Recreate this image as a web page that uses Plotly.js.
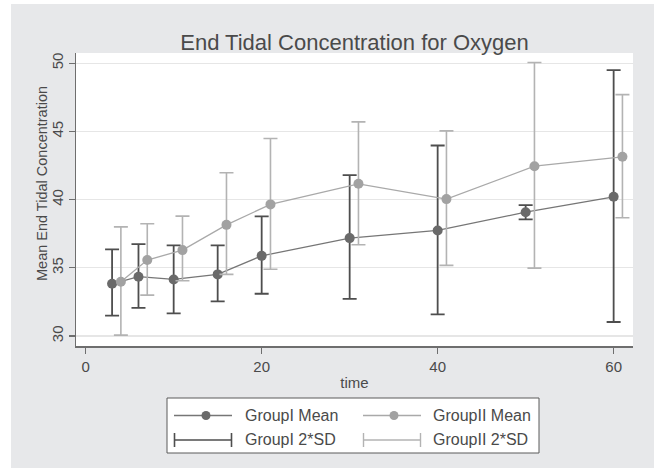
<!DOCTYPE html>
<html>
<head>
<meta charset="utf-8">
<script src="https://cdn.plot.ly/plotly-3.0.1.min.js"></script>
<style>
html,body{margin:0;padding:0;background:#ffffff;width:654px;height:468px;overflow:hidden;}
#chart{position:absolute;left:11px;top:4px;width:643px;height:464px;}
</style>
</head>
<body>
<div id="chart"></div>
<script>
// ---- data ----
var timeI  = [3, 6, 10, 15, 20, 30, 40, 50, 60];
var meanI  = [33.83, 34.35, 34.15, 34.52, 35.88, 37.18, 37.74, 39.08, 40.21];
var upperI = [36.35, 36.74, 36.64, 36.64, 38.77, 41.80, 43.97, 39.60, 49.49];
var lowerI = [31.50, 32.07, 31.66, 32.54, 33.10, 32.73, 31.59, 38.55, 31.03];

var timeII  = [4, 7, 11, 16, 21, 31, 41, 51, 61];
var meanII  = [33.98, 35.57, 36.30, 38.15, 39.65, 41.16, 40.04, 42.45, 43.14];
var upperII = [38.00, 38.23, 38.79, 41.97, 44.48, 45.70, 45.04, 50.05, 47.70];
var lowerII = [30.07, 33.00, 34.05, 34.52, 34.90, 36.69, 35.18, 34.98, 38.67];

var xTicks = [0, 20, 40, 60];
var yTicks = [30, 35, 40, 45, 50];
var legendLabels = ['GroupI Mean', 'GroupII Mean', 'GroupI 2*SD', 'GroupII 2*SD'];

// ---- styling ----
var FONT = '"Liberation Sans", Arial, Helvetica, sans-serif';
var TXT = '#4a4a4a';
var darkMark = '#6a6a6a', darkBar = '#4e4e4e', darkLine = '#767676';
var lightMark = '#a2a2a2', lightBar = '#b3b3b3', lightLine = '#a9a9a9';

function diff(a, b) { return a.map(function (v, i) { return +(v - b[i]).toFixed(3); }); }

var traces = [
  {
    x: timeI, y: meanI, type: 'scatter', mode: 'lines+markers', showlegend: false,
    line: {color: darkLine, width: 1.3},
    marker: {color: darkMark, size: 10},
    error_y: {type: 'data', symmetric: false, array: diff(upperI, meanI), arrayminus: diff(meanI, lowerI),
              color: darkBar, thickness: 1.8, width: 7}
  },
  {
    x: timeII, y: meanII, type: 'scatter', mode: 'lines+markers', showlegend: false,
    line: {color: lightLine, width: 1.3},
    marker: {color: lightMark, size: 10},
    error_y: {type: 'data', symmetric: false, array: diff(upperII, meanII), arrayminus: diff(meanII, lowerII),
              color: lightBar, thickness: 1.6, width: 7}
  }
];

// page-pixel geometry of the plot area (reference)
var L = 76, R = 633, T = 53, B = 346;
function px(x) { return (x - L) / (R - L); }
function py(y) { return (B - y) / (B - T); }

var shapes = [];
var annotations = [];
// legend box
shapes.push({type: 'rect', xref: 'paper', yref: 'paper', x0: px(167), x1: px(539), y0: py(398), y1: py(453),
  fillcolor: '#ffffff', line: {color: '#5a5a5a', width: 1}});
function hline(x0, x1, y, color, w) {
  shapes.push({type: 'line', xref: 'paper', yref: 'paper', x0: px(x0), x1: px(x1), y0: py(y), y1: py(y), line: {color: color, width: w}});
}
function vline(x, y0, y1, color, w) {
  shapes.push({type: 'line', xref: 'paper', yref: 'paper', x0: px(x), x1: px(x), y0: py(y0), y1: py(y1), line: {color: color, width: w}});
}
function dot(x, y, r, color) {
  shapes.push({type: 'circle', xref: 'paper', yref: 'paper', x0: px(x - r), x1: px(x + r), y0: py(y + r), y1: py(y - r),
    fillcolor: color, line: {color: color, width: 0}});
}
function label(x, y, t) {
  annotations.push({xref: 'paper', yref: 'paper', x: px(x), y: py(y), text: t, showarrow: false,
    xanchor: 'left', yanchor: 'middle', font: {family: FONT, size: 16, color: TXT}});
}
var r1 = 415.5, r2 = 440;
hline(174, 232, r1, darkLine, 1.3); dot(206, r1, 4.5, darkMark); label(243, r1, legendLabels[0]);
hline(363, 421, r1, lightLine, 1.3); dot(394, r1, 4.5, lightMark); label(431, r1, legendLabels[1]);
hline(174, 232, r2, darkBar, 1.6); vline(174.5, r2 - 7, r2 + 7, darkBar, 1.6); vline(231.5, r2 - 7, r2 + 7, darkBar, 1.6); label(243, r2, legendLabels[2]);
hline(363, 421, r2, lightBar, 1.4); vline(363.5, r2 - 7, r2 + 7, lightBar, 1.4); vline(420.5, r2 - 7, r2 + 7, lightBar, 1.4); label(431, r2, legendLabels[3]);

// y axis title placed as rotated annotation
annotations.push({xref: 'paper', yref: 'paper', x: px(42), y: py(184), text: 'Mean End Tidal Concentration',
  textangle: -90, showarrow: false, xanchor: 'center', yanchor: 'middle', font: {family: FONT, size: 14.5, color: TXT}});

var layout = {
  width: 643, height: 464,
  margin: {l: L - 11, r: 654 - R, t: T - 4, b: 468 - B, pad: 0},
  paper_bgcolor: '#e7e8ea',
  plot_bgcolor: '#ffffff',
  font: {family: FONT, color: TXT, size: 15},
  title: {text: 'End Tidal Concentration for Oxygen', font: {family: FONT, size: 22, color: TXT},
          xref: 'paper', x: 0.5, xanchor: 'center', yref: 'container', y: 1 - (42 - 4) / 464, yanchor: 'middle'},
  xaxis: {
    range: [-1.1, 62.2], tickvals: xTicks, ticktext: xTicks.map(String),
    showgrid: false, zeroline: false, showline: true, linecolor: '#6e6e6e', linewidth: 1.5,
    ticks: 'outside', ticklen: 6, tickcolor: '#6e6e6e', tickwidth: 1.3,
    tickfont: {family: FONT, size: 15, color: TXT},
    title: {text: 'time', font: {family: FONT, size: 15, color: TXT}, standoff: 4}
  },
  yaxis: {
    range: [29.27, 50.75], tickvals: yTicks, ticktext: yTicks.map(String), tickangle: -90,
    showgrid: true, gridcolor: '#e6e6e6', gridwidth: 1.2, zeroline: false,
    showline: true, linecolor: '#6e6e6e', linewidth: 1.5,
    ticks: 'outside', ticklen: 6, tickcolor: '#6e6e6e', tickwidth: 1.3,
    tickfont: {family: FONT, size: 15, color: TXT}
  },
  shapes: shapes,
  annotations: annotations,
  showlegend: false
};

Plotly.newPlot('chart', traces, layout, {displayModeBar: false, staticPlot: true});
</script>
</body>
</html>
